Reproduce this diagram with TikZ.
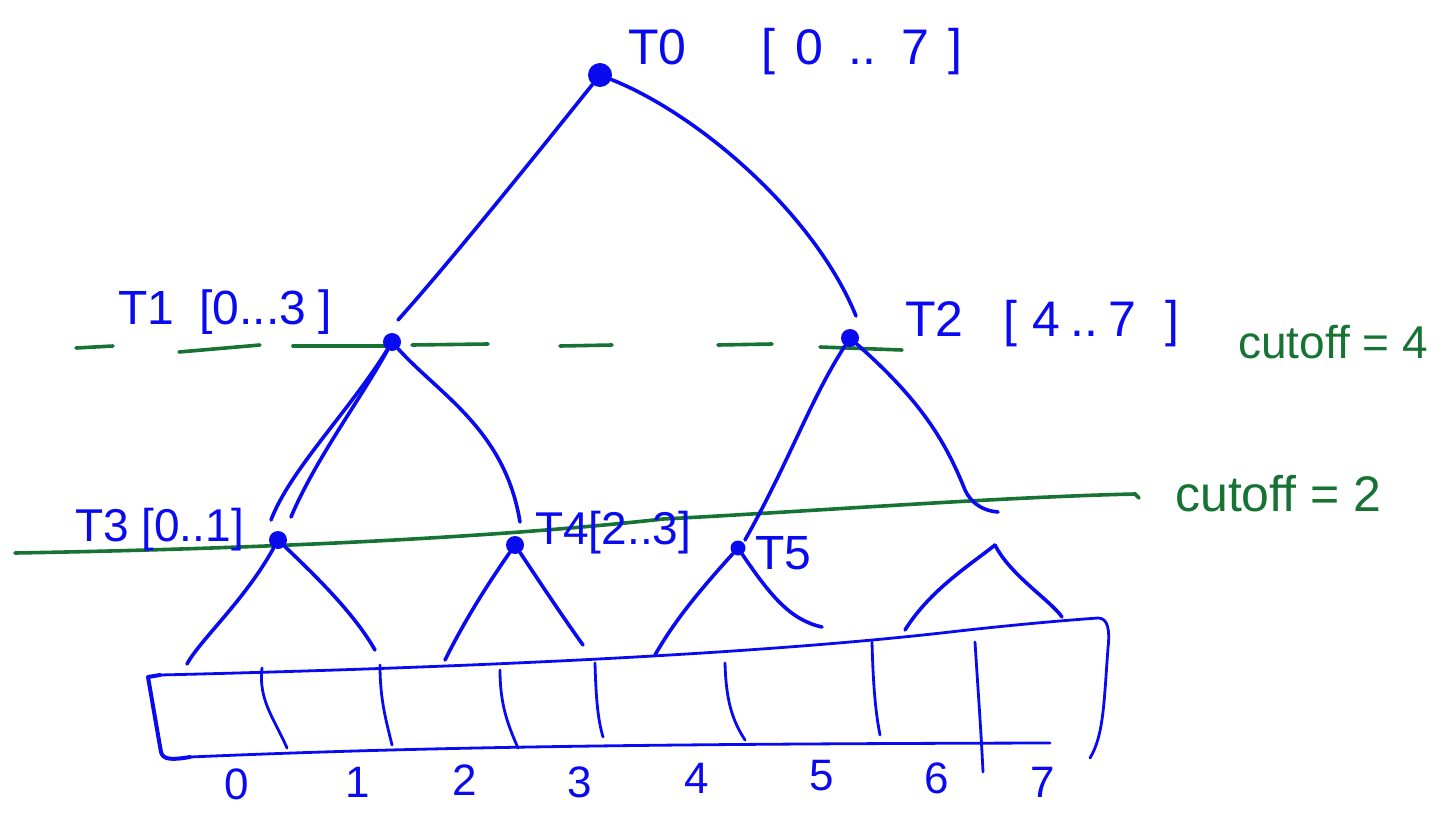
\documentclass[tikz,border=0pt]{standalone}
\usepackage{fontspec}
\setmainfont{Liberation Sans}
\definecolor{pen}{RGB}{10,10,240}
\definecolor{gpen}{RGB}{22,115,52}
\begin{document}
\begin{tikzpicture}[x=1pt,y=-1pt,
  tree/.style={draw=pen,line width=3.6pt,line cap=round,line join=round},
  arr/.style={draw=pen,line width=2.8pt,line cap=round,line join=round},
  cut/.style={draw=gpen,line width=3.6pt,line cap=round},
  dot/.style={circle,fill=pen,minimum size=18pt,inner sep=0pt},
  lbl/.style={text=pen,inner sep=0pt,anchor=west},
  glbl/.style={text=gpen,inner sep=0pt,anchor=west},
  dig/.style={text=pen,inner sep=0pt,font=\fontsize{44}{50}\selectfont}]
\useasboundingbox (0,0) rectangle (1450,813);
\fill[white] (0,0) rectangle (1450,813);

% cut-off lines
\draw[cut] (76,348) -- (113,346);
\draw[cut] (179,352) -- (260,345);
\draw[cut] (293,346) -- (392,346);
\draw[cut] (412,345) -- (488,344);
\draw[cut] (560,346) -- (612,345);
\draw[cut] (718,345) -- (772,344);
\draw[cut] (820,347) -- (902,350);
\draw[cut] (15,553) .. controls (300,548) and (520,535) .. (663,519)
  .. controls (800,512) and (1000,497) .. (1135,494) -- (1139,498);

% tree nodes
\node[dot,minimum size=24pt] (t0) at (600,75) {};
\node[dot] (t1) at (392,342) {};
\node[dot] (t2) at (850,338) {};
\node[dot] (t3) at (278,540) {};
\node[dot] (t4) at (515,545) {};
\node[dot,minimum size=15pt] (t5) at (738,548) {};
\coordinate (t6) at (995,545);

% edge end points
\coordinate (e01) at (398,320);
\coordinate (e02) at (856,316);
\coordinate (e13a) at (271,520);
\coordinate (e13b) at (291,517);
\coordinate (e14) at (520,522);
\coordinate (e25) at (745,540);
\coordinate (e26) at (998,512);
\coordinate (l30) at (187,664);
\coordinate (l31) at (375,650);
\coordinate (l42) at (445,660);
\coordinate (l43) at (583,645);
\coordinate (l54) at (655,655);
\coordinate (l55) at (822,627);
\coordinate (l66) at (905,630);
\coordinate (l67) at (1062,617);

\draw[tree] (t0) .. controls (540,150) and (450,262) .. (e01);
\draw[tree] (t0) .. controls (700,115) and (815,215) .. (e02);
\draw[tree] (t1) .. controls (350,410) and (290,470) .. (e13a);
\draw[tree] (t1) .. controls (360,400) and (315,460) .. (e13b);
\draw[tree] (t1) .. controls (440,395) and (505,430) .. (e14);
\draw[tree] (t2) .. controls (810,400) and (790,460) .. (e25);
\draw[tree] (t2) .. controls (920,400) and (945,440) .. (965,490) .. controls (972,505) and (985,511) .. (e26);
\draw[tree] (t3) .. controls (245,600) and (200,640) .. (l30);
\draw[tree] (t3) .. controls (320,580) and (355,615) .. (l31);
\draw[tree] (t4) .. controls (480,595) and (460,630) .. (l42);
\draw[tree] (t4) .. controls (545,590) and (565,620) .. (l43);
\draw[tree] (t5) .. controls (700,590) and (675,620) .. (l54);
\draw[tree] (t5) .. controls (770,595) and (790,620) .. (l55);
\draw[tree] (l66) .. controls (930,590) and (970,565) .. (t6);
\draw[tree] (t6) .. controls (1010,575) and (1050,600) .. (l67);

% array
\draw[arr,line width=4pt] (160,675) -- (148,677) .. controls (152,700) and (158,735) .. (161,752)
  .. controls (163,760) and (172,760) .. (190,757);
\draw[arr] (160,675) .. controls (450,668) and (750,655) .. (950,632)
  .. controls (1020,624) and (1070,620) .. (1098,618)
  .. controls (1108,618) and (1110,630) .. (1108,648)
  .. controls (1104,700) and (1104,735) .. (1090,758);
\draw[arr] (190,757) .. controls (400,748) and (600,744) .. (1050,743);
\draw[arr] (262,668) .. controls (258,700) and (275,720) .. (287,748);
\draw[arr] (380,665) .. controls (380,700) and (386,720) .. (392,745);
\draw[arr] (500,670) .. controls (500,705) and (508,725) .. (518,748);
\draw[arr] (595,663) .. controls (596,700) and (598,720) .. (603,737);
\draw[arr] (725,663) .. controls (726,700) and (732,720) .. (745,740);
\draw[arr] (872,642) .. controls (873,680) and (875,710) .. (880,735);
\draw[arr] (975,642) .. controls (978,690) and (981,730) .. (983,772);

% labels
\node[lbl,font=\fontsize{50}{60}\selectfont] (lt0) at (628,52)
  {T0\hspace{1.5em}[\hspace{0.4em}0\hspace{0.5em}..\hspace{0.5em}7\hspace{0.4em}]};
\node[lbl,font=\fontsize{48}{56}\selectfont] (lt1) at (118,312)
  {T1\hspace{0.25em} [0...3\hspace{0.25em}]};
\node[lbl,font=\fontsize{50}{60}\selectfont] (lt2) at (905,324)
  {T2\hspace{0.8em}[\hspace{0.3em}4\hspace{0.2em}..\hspace{0.2em}7\hspace{0.6em}]};
\node[lbl,font=\fontsize{46}{54}\selectfont] (lt3) at (75,530) {T3 [0..1]};
\node[lbl,font=\fontsize{46}{54}\selectfont] (lt4) at (535,533) {T4[2..3]};
\node[lbl,font=\fontsize{48}{56}\selectfont] (lt5) at (755,553) {T5};
\node[glbl,font=\fontsize{46}{54}\selectfont] (c4) at (1238,342) {cutoff = 4};
\node[glbl,font=\fontsize{50}{60}\selectfont] (c2) at (1175,494) {cutoff = 2};

\node[dig] (d0) at (237,784) {0};
\node[dig] (d1) at (358,782) {1};
\node[dig] (d2) at (465,780) {2};
\node[dig] (d3) at (580,782) {3};
\node[dig] (d4) at (697,778) {4};
\node[dig] (d5) at (822,776) {5};
\node[dig] (d6) at (937,778) {6};
\node[dig] (d7) at (1043,782) {7};
\end{tikzpicture}
\end{document}
